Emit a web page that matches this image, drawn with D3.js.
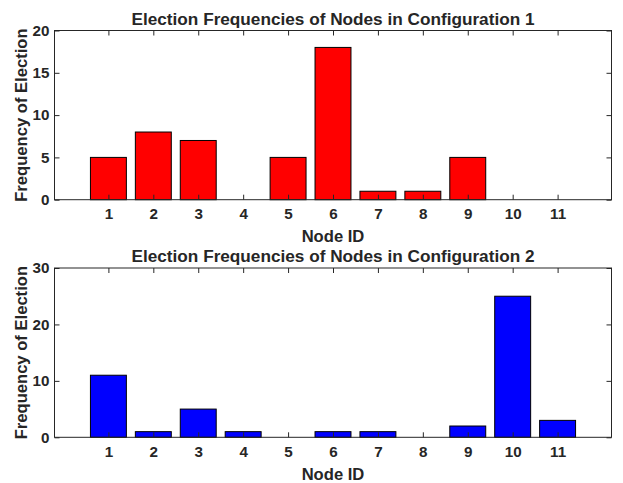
<!DOCTYPE html>
<html>
<head>
<meta charset="utf-8">
<script src="https://cdn.jsdelivr.net/npm/d3@7"></script>
<style>
  html, body { margin: 0; padding: 0; background: #fff; }
  svg { display: block; }
  text { font-family: "Liberation Sans", Arial, sans-serif; font-weight: bold; fill: #262626; }
</style>
</head>
<body>
<svg id="chart" width="623" height="483"></svg>
<script>
// Node identifiers and election counts per configuration
const nodeIds = [1, 2, 3, 4, 5, 6, 7, 8, 9, 10, 11];
const config1Counts = [5, 8, 7, 0, 5, 18, 1, 1, 5, 0, 0];
const config2Counts = [11, 1, 5, 1, 0, 1, 1, 0, 2, 25, 3];
const config1Ticks = [0, 5, 10, 15, 20];
const config2Ticks = [0, 10, 20, 30];

const svg = d3.select("#chart");
const axisColor = "#262626";

const panels = [
  { title: "Election Frequencies of Nodes in Configuration 1", values: config1Counts,
    ticks: config1Ticks, yMax: 20, color: "#ff0000", top: 30.5, bottom: 199.7 },
  { title: "Election Frequencies of Nodes in Configuration 2", values: config2Counts,
    ticks: config2Ticks, yMax: 30, color: "#0000ff", top: 268, bottom: 437.3 }
];

const left = 54.5, right = 611.5;
const barWidth = 0.8;
const tickLen = 5;
const tickFont = "15.2px", labelFont = "16.6px", titleFont = "17.2px";

panels.forEach(p => {
  const x = d3.scaleLinear().domain([-0.2, 12.2]).range([left, right]);
  const y = d3.scaleLinear().domain([0, p.yMax]).range([p.bottom, p.top]);
  const g = svg.append("g");

  // bars
  g.selectAll("rect.bar")
    .data(nodeIds.map((id, i) => ({ id, v: p.values[i] })))
    .join("rect")
    .attr("class", "bar")
    .attr("x", d => x(d.id - barWidth / 2))
    .attr("width", d => x(d.id + barWidth / 2) - x(d.id - barWidth / 2))
    .attr("y", d => y(d.v))
    .attr("height", d => y(0) - y(d.v))
    .attr("fill", p.color)
    .attr("stroke", "#000")
    .attr("stroke-width", 1);

  // bottom axis (ticks inward)
  const xAxis = d3.axisBottom(x).tickValues(nodeIds).tickSizeInner(-tickLen).tickSizeOuter(0).tickPadding(9);
  const gx = g.append("g").attr("transform", `translate(0,${p.bottom})`).call(xAxis);
  // top mirrored ticks
  const xTop = d3.axisTop(x).tickValues(nodeIds).tickSizeInner(-tickLen).tickSizeOuter(0).tickFormat("");
  const gxt = g.append("g").attr("transform", `translate(0,${p.top})`).call(xTop);

  const yAxis = d3.axisLeft(y).tickValues(p.ticks).tickSizeInner(-tickLen).tickSizeOuter(0).tickPadding(5);
  const gy = g.append("g").attr("transform", `translate(${left},0)`).call(yAxis);
  const yRight = d3.axisRight(y).tickValues(p.ticks).tickSizeInner(-tickLen).tickSizeOuter(0).tickFormat("");
  const gyr = g.append("g").attr("transform", `translate(${right},0)`).call(yRight);

  [gx, gxt, gy, gyr].forEach(a => {
    a.select(".domain").remove();
    a.selectAll("line").attr("stroke", axisColor);
    a.selectAll("text").style("font-size", tickFont).style("font-family", "Liberation Sans, Arial, sans-serif")
      .style("font-weight", "bold").attr("fill", axisColor);
  });

  // axes box
  g.append("rect")
    .attr("x", left).attr("y", p.top)
    .attr("width", right - left).attr("height", p.bottom - p.top)
    .attr("fill", "none").attr("stroke", axisColor).attr("stroke-width", 1);

  // title
  g.append("text")
    .attr("x", (left + right) / 2).attr("y", p.top - 6)
    .attr("text-anchor", "middle").style("font-size", titleFont)
    .text(p.title);

  // x label
  g.append("text")
    .attr("x", (left + right) / 2).attr("y", p.bottom + 42.5)
    .attr("text-anchor", "middle").style("font-size", labelFont)
    .text("Node ID");

  // y label
  g.append("text")
    .attr("transform", `translate(26.5,${(p.top + p.bottom) / 2}) rotate(-90)`)
    .attr("text-anchor", "middle").style("font-size", labelFont)
    .text("Frequency of Election");
});
</script>
</body>
</html>
